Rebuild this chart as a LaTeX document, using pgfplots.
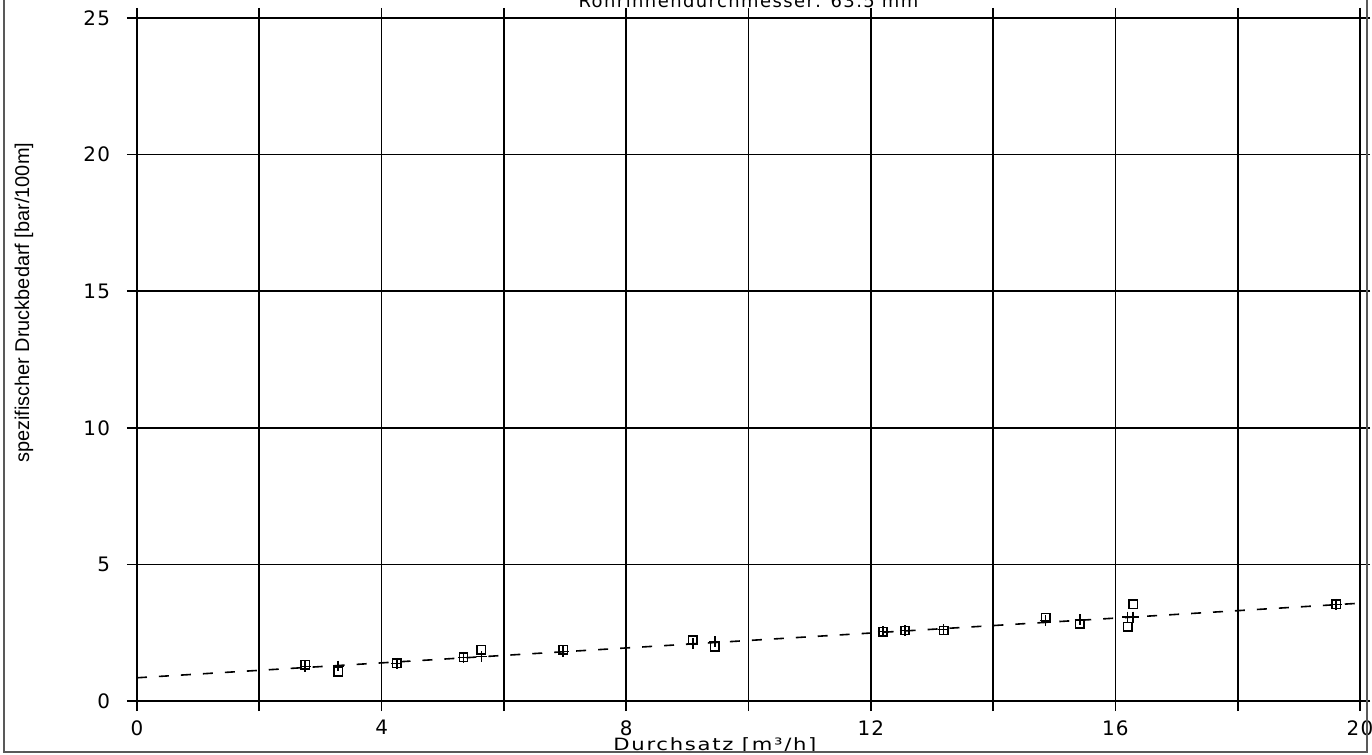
\documentclass[border=0pt]{standalone}
\usepackage{fontspec}
\setmainfont{DejaVu Sans}
\newfontfamily\plotfont[FakeStretch=1.25, LetterSpace=10]{DejaVu Sans}
\newfontfamily\titlefont[LetterSpace=8]{DejaVu Sans}
\newfontfamily\tickfont[LetterSpace=6]{DejaVu Sans}
\newfontfamily\narrowfont{Liberation Sans}
\usepackage{pgfplots}
\pgfplotsset{compat=1.18}

% measured points and computed values
\pgfplotstableread{
x      y
2.75   1.32
3.29   1.07
4.25   1.38
5.34   1.60
5.63   1.87
6.97   1.87
9.09   2.23
9.45   1.99
12.20  2.54
12.56  2.58
13.19  2.58
14.86  3.05
15.42  2.82
16.20  2.72
16.29  3.54
19.61  3.54
}\measured
\pgfplotstableread{
x      y
2.75   1.27
3.29   1.28
4.25   1.38
5.34   1.60
5.63   1.62
6.97   1.82
9.09   2.10
9.45   2.17
12.20  2.54
12.56  2.58
13.19  2.62
14.86  2.94
15.42  2.97
16.20  3.07
16.29  3.07
19.61  3.54
}\computed

\begin{document}
\begin{tikzpicture}
\begin{axis}[
  at={(0,0)}, anchor=origin,
  scale only axis, width=611.5bp, height=341.5bp,
  xmin=0, xmax=20, ymin=0, ymax=25,
  xtick={0,2,...,20},
  xticklabels={0,,4,,8,,12,,16,,20},
  ytick={0,5,...,25},
  grid=major,
  grid style={black, line width=0.8bp},
  axis line style={black, line width=1bp},
  tick style={black, line width=0.8bp},
  tick align=outside,
  major tick length=5bp,
  clip=false,
  /pgf/number format/assume math mode=true,
  ticklabel style={font=\tickfont\fontsize{10}{11}\selectfont},
  yticklabel style={xshift=-5bp},
  xticklabel style={yshift=-3.5bp, inner sep=1bp},
]
\addplot[black, line width=0.8bp, dash pattern=on 5bp off 6bp] coordinates {(0,0.85) (20,3.58)};
\addplot[only marks, mark=square, mark size=2.1bp, mark options={black, line width=0.75bp}] table {\measured};
\addplot[only marks, mark=+, mark size=2.7bp, mark options={black, line width=0.75bp}] table {\computed};
\node[anchor=base, font=\titlefont\fontsize{9}{10}\selectfont] at (rel axis cs:0.5,1) [yshift=5.5bp] {Rohrinnendurchmesser: 63.5 mm};
\node[anchor=base, inner sep=0.5bp, font=\plotfont\fontsize{8.5}{9}\selectfont] at (rel axis cs:0.4726,0) [yshift=-24.5bp] {Durchsatz [m³/h]};
\node[rotate=90, font=\narrowfont\fontsize{10}{11}\selectfont] at (rel axis cs:0,0.583) [yshift=56.5bp] {spezifischer Druckbedarf [bar/100m]};
\end{axis}
\draw[gray!70!black, line width=0.6bp] (-66.5bp,-25.5bp) rectangle (615bp,380bp);
\pgfresetboundingbox
\useasboundingbox (-68.5bp,-27bp) rectangle (617.5bp,350.5bp);
\end{tikzpicture}
\end{document}
